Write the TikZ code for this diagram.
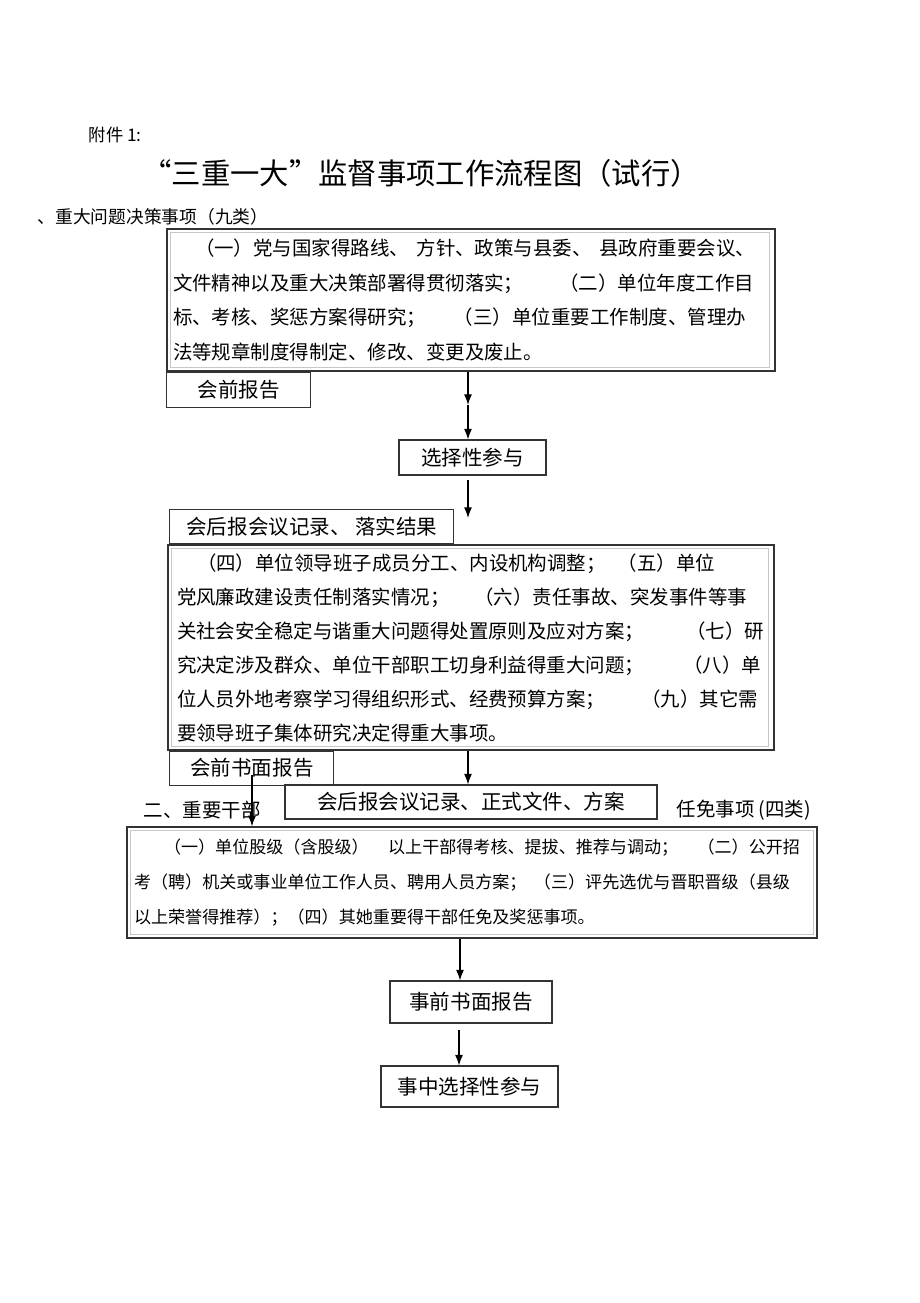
\documentclass[tikz,border=0pt]{standalone}
\usepackage{fontspec}
\setmainfont{Noto Sans CJK SC}
\usetikzlibrary{positioning,arrows,arrows.meta}
\newdimen\pxu \pxu=0.75pt
\newcommand{\fitline}[2]{\makebox[#1\pxu][s]{#2}}
\tikzset{frame/.style={draw=black!80,line width=0.9pt,inner sep=0pt}}
\tikzset{inset/.style={draw=black!22,line width=0.6pt}}
\tikzset{tag/.style={draw=black!80,line width=0.8pt,inner sep=0pt,font=\fontsize{15.4}{18}\selectfont}}
\tikzset{flow/.style={-{Latex[length=8pt,width=6pt]},line width=0.9pt}}

\begin{document}
\begin{tikzpicture}[x=0.75pt,y=-0.75pt]
	\useasboundingbox (0,0) rectangle (920,1303);

	%% headings
	\node[anchor=west,font=\fontsize{13}{15}\selectfont] (att) at (84,135) {附件 1:};
	\node[font=\fontsize{22}{25}\selectfont] (title) at (421,173) {“三重一大”监督事项工作流程图（试行）};
	\node[anchor=west,font=\fontsize{13.3}{15}\selectfont] (sec1) at (33,217) {、重大问题决策事项（九类）};

	%% part one
	\node[frame,minimum width=456pt,minimum height=106.5pt,font=\fontsize{14.6}{26}\selectfont] (b1) at (471,300) {\parbox{596\pxu}{%
		\hspace*{22\pxu}\fitline{560}{（一）党与国家得路线、 方针、政策与县委、 县政府重要会议、}\\
		\fitline{581}{文件精神以及重大决策部署得贯彻落实； （二）单位年度工作目}\\
		\fitline{573}{标、考核、奖惩方案得研究； （三）单位重要工作制度、管理办}\\
		法等规章制度得制定、修改、变更及废止。}};
	\draw[inset] ([xshift=3pt,yshift=-3pt]b1.north west) rectangle ([xshift=-4.5pt,yshift=3.5pt]b1.south east);
	\node[tag,anchor=north west,minimum width=108pt,minimum height=26.25pt] (pre1) at (b1.south west) {会前报告};

	\node[tag,minimum width=110.25pt,minimum height=26.25pt] (sel) at (472.5,457.5) {选择性参与};

	\node[frame,minimum width=454.5pt,minimum height=153.75pt,font=\fontsize{14.6}{25.5}\selectfont] (b2) at (471,647.5) {\parbox{588\pxu}{%
		\hspace*{20\pxu}\fitline{518}{（四）单位领导班子成员分工、内设机构调整； （五）单位}\\
		\fitline{570}{党风廉政建设责任制落实情况； （六）责任事故、突发事件等事}\\
		\fitline{587}{关社会安全稳定与谐重大问题得处置原则及应对方案； （七）研}\\
		\fitline{584}{究决定涉及群众、单位干部职工切身利益得重大问题； （八）单}\\
		\fitline{581}{位人员外地考察学习得组织形式、经费预算方案； （九）其它需}\\
		要领导班子集体研究决定得重大事项。}};
	\draw[inset] ([xshift=3pt,yshift=-3pt]b2.north west) rectangle ([xshift=-4.5pt,yshift=3.5pt]b2.south east);
	\node[tag,anchor=south west,minimum width=213pt,minimum height=25.5pt] (post1) at ([xshift=1.5pt]b2.north west) {会后报会议记录、 落实结果};
	\node[tag,anchor=north west,minimum width=123pt,minimum height=25.5pt] (pre2) at ([xshift=1.5pt]b2.south west) {会前书面报告};

	\node[tag,minimum width=279pt,minimum height=25.5pt] (post2) at (471,802) {会后报会议记录、正式文件、方案};

	%% part two
	\node[anchor=west,font=\fontsize{14.6}{17}\selectfont] (sec2a) at (139,810) {二、重要干部};
	\node[anchor=west,font=\fontsize{14.6}{17}\selectfont] (sec2b) at (672,810) {任免事项 (四类)};

	\node[frame,minimum width=517.5pt,minimum height=83.25pt,font=\fontsize{12.8}{26.25}\selectfont] (b3) at (472,882.5) {\parbox{676\pxu}{%
		\hspace*{30\pxu}\fitline{636}{（一）单位股级（含股级） 以上干部得考核、提拔、推荐与调动； （二）公开招}\\
		\fitline{656}{考（聘）机关或事业单位工作人员、聘用人员方案； （三）评先选优与晋职晋级（县级}\\
		以上荣誉得推荐）；（四）其她重要得干部任免及奖惩事项。}};
	\draw[inset] ([xshift=3pt,yshift=-3pt]b3.north west) rectangle ([xshift=-3.5pt,yshift=3.5pt]b3.south east);

	\node[tag,minimum width=121.5pt,minimum height=31.5pt] (pre3) at (471,1002) {事前书面报告};
	\node[tag,minimum width=132.75pt,minimum height=30.75pt] (mid3) at (469.5,1086.5) {事中选择性参与};

	%% arrows
	\coordinate (k1) at (468,405);
	\draw[flow] (b1.south -| k1) -- (k1);
	\draw[flow] (k1) -- (k1 |- sel.north);
	\coordinate (k2a) at (468,480);
	\coordinate (k2b) at (468,518);
	\draw[flow] (k2a) -- (k2b);
	\coordinate (k3) at (468,770);
	\draw[flow] (b2.south -| k3) -- (k3 |- post2.north);
	\coordinate (k4) at (252,775);
	\draw[flow] (k4) -- (k4 |- b3.north);
	\coordinate (k5) at (460,960);
	\draw[flow] (b3.south -| k5) -- (k5 |- pre3.north);
	\coordinate (k6) at (459,1030);
	\draw[flow] (k6) -- (k6 |- mid3.north);

\end{tikzpicture}
\end{document}
